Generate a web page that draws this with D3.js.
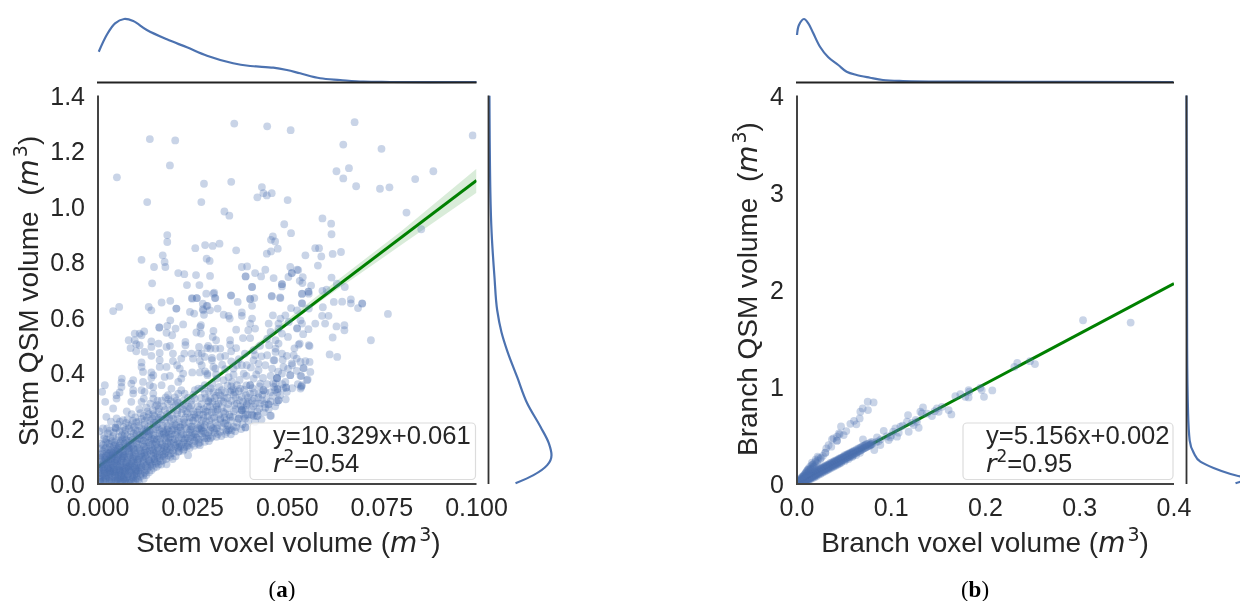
<!DOCTYPE html>
<html><head><meta charset="utf-8">
<script src="https://cdn.jsdelivr.net/npm/d3@7"></script>
<style>html,body{margin:0;padding:0;background:#fff}svg{display:block;filter:blur(.35px)}
text{font-family:"Liberation Sans",Arial,sans-serif;fill:#262626}</style></head>
<body><svg id="c" width="1240" height="601"></svg>
<script>
const stemSparse=[[.036,1.299],[.0447,1.289],[.0509,1.275],[.0137,1.243],[.0204,1.238],[.019,1.148],[.005,1.105],[.028,1.082],[.0352,1.089],[.0433,1.07],[.0437,1.048],[.0446,1.04],[.0459,1.048],[.0421,1.033],[.0501,1.023],[.013,1.016],[.0273,1.016],[.0334,.982],[.0347,.967],[.0492,.936],[.051,.904],[.0183,.897],[.0183,.872],[.0462,.892],[.0457,.88],[.0468,.874],[.0321,.866],[.0283,.861],[.0303,.858],[.0257,.85],[.0365,.842],[.0475,.848],[.0457,.838],[.0446,.83],[.0171,.824],[.0115,.808],[.0287,.812],[.0295,.804],[.0176,.8],[.0148,.782],[.0178,.782],[.038,.782],[.0394,.784],[.0508,.782],[.0526,.772],[.0442,.772],[.0212,.76],[.0228,.756],[.0259,.753],[.0296,.75],[.039,.748],[.039,.748],[.0415,.76],[.0431,.748],[.0464,.742],[.0503,.746],[.0512,.76],[.0512,.76],[.0143,.723],[.0235,.717],[.0268,.717],[.0407,.71],[.0486,.72],[.0486,.72],[.0286,.686],[.0305,.686],[.031,.67],[.0248,.67],[.0261,.67],[.0352,.679],[.0402,.668],[.0413,.67],[.0459,.676],[.0481,.672],
[.0678,1.304],[.0648,1.223],[.0749,1.208],[.099,1.256],[.063,1.127],[.0663,1.138],[.0648,1.101],[.0682,1.073],[.0745,1.064],[.077,1.069],[.0838,1.099],[.0886,1.127],[.0815,.978],[.0854,.918],[.0593,.957],[.0616,.938],[.0617,.9],[.0574,.85],[.0584,.85],[.0548,.824],[.059,.82],[.062,.829],[.0642,.836],[.0581,.787],[.0529,.771],[.0617,.744],[.0541,.745],[.0533,.732],[.054,.724],[.0563,.715],[.0631,.722],[.0652,.71],[.0593,.696],[.0604,.7],[.0556,.693],[.0556,.693],[.0539,.685],[.0539,.652],[.0623,.656],[.0645,.657],[.0668,.665],[.0668,.651],[.0698,.651],[.0687,.634],[.0594,.637],
[.0766,.613],[.0721,.518],[.0612,.467],[.0632,.458],[.062,.528],[.0651,.572],[.0651,.554],[.063,.568],[.06,.578],[.0698,.65],[.0559,.497],[.0559,.44],[.0561,.404],[.0554,.377],[.0537,.353],[.0537,.389],[.0457,.246],[.042,.245],[.0389,.204],[.0389,.236],[.0407,.251],[.0477,.302],[.045,.287],[.0497,.348],[.0508,.392],[.0533,.506],[.0592,.606],[.0609,.606],[.0574,.578],[.0526,.56],[.0556,.558],[.0519,.489],[.0543,.417],[.0512,.435],[.0466,.446],[.0473,.381],[.0473,.381],[.0463,.363],[.0437,.338],[.0402,.356],[.0384,.273],[.0393,.291]];
const stemMiddle=[[.004,.623],[.0056,.638],[.0134,.638],[.0141,.626],[.0168,.654],[.0191,.66],[.0207,.632],[.0207,.632],[.0249,.668],[.0261,.67],[.0243,.62],[.0254,.614],[.0278,.626],[.0287,.642],[.0191,.59],[.0183,.57],[.0162,.564],[.0162,.564],[.0205,.56],[.0225,.575],[.0181,.545],[.0196,.536],[.0272,.572],[.026,.546],[.0272,.542],[.0097,.542],[.011,.542],[.0122,.55],[.0115,.536],[.0081,.518],[.0097,.518],[.011,.5],[.0101,.504],[.0086,.49],[.0101,.478],[.0141,.514],[.0141,.494],[.016,.506],[.0181,.494],[.019,.498],[.0231,.512],[.0231,.5],[.0123,.476],[.0163,.472],[.0198,.47],[.0228,.47],[.0267,.494],[.0291,.498],[.0247,.47],[.0265,.47],[.0282,.458],[.0251,.452],[.022,.452],[.0141,.462],[.0115,.438],[.0163,.446],[.0198,.443],[.0209,.428],[.0269,.443],[.0216,.416],[.0181,.422],[.0115,.422],[.0119,.404],[.0141,.402],[.0163,.422],[.0249,.402],[.0269,.402],[.0289,.398],[.0225,.398],[.0141,.383],[.0146,.392],[.0063,.38],[.0062,.366],[.0093,.374],[.0088,.362],[.0018,.356],[.0119,.368],[.019,.39],[.0176,.386],[.022,.38],[.0212,.368],[.0168,.356],[.0146,.35],[.0137,.356],[.0062,.35],[.0049,.32],[.0057,.33],[.0093,.338],[.0115,.338],[.0146,.326],[.0194,.344],[.022,.338],[.0256,.338],[.0265,.344],[.0212,.326],[.0282,.356],[.0229,.326],
[.0307,.69],[.0309,.67],[.0351,.68],[.0369,.656],[.0402,.666],[.0459,.678],[.0482,.67],[.0407,.642],[.0407,.71],[.0486,.712],[.0539,.686],[.0557,.686],[.0277,.65],[.0289,.642],[.0296,.626],[.0316,.632],[.0277,.63],[.028,.61],[.0332,.61],[.0345,.606],[.0348,.596],[.038,.618],[.038,.606],[.0462,.608],[.051,.634],[.0539,.65],[.0557,.632],[.0526,.626],[.0495,.608],[.0482,.596],[.0407,.596],[.0402,.578],[.0451,.578],[.0477,.578],[.0504,.584],[.0535,.59],[.0526,.562],[.0539,.578],[.0365,.556],[.0397,.554],[.0415,.56],[.0305,.552],[.027,.566],[.0456,.548],[.0477,.56],[.0303,.53],[.0312,.518],[.0349,.518],[.0383,.526],[.0402,.526],[.0447,.524],[.0469,.518],[.0486,.542],[.0349,.502],[.0323,.488],[.0297,.488],[.031,.488],[.0288,.49],[.0365,.49],[.0411,.482],[.0469,.488],[.0486,.47],[.053,.502],[.0557,.5],[.0477,.506],[.0274,.47],[.0301,.454],[.0301,.446],[.0336,.462],[.0323,.458],[.0415,.464],[.0447,.464],[.0464,.446],[.0517,.464],[.0499,.462],[.0535,.44],[.0548,.443],[.0469,.476],[.0411,.446],[.0274,.428],[.0305,.422],[.031,.416],[.0367,.428],[.038,.428],[.0393,.428],[.0424,.434],[.0442,.428],[.049,.422],[.0513,.428],[.0543,.418],[.0283,.406],[.0336,.414],[.0358,.416],[.0424,.41],[.046,.416],[.0289,.392],[.0314,.38],[.0332,.374],[.0358,.394],[.0385,.398],[.0411,.38],[.0473,.382],[.0486,.398],[.0508,.392],[.0535,.39],[.0552,.374],[.0539,.356],[.0402,.356],[.0429,.362],[.0469,.362],[.0495,.368],[.0354,.368],[.0367,.356],[.0274,.344],[.0305,.332],[.0327,.338],[.0354,.338],[.0376,.344],[.0402,.326],[.0437,.338],[.0468,.338],[.0499,.332],[.0535,.344],
[.0537,.35],[.0497,.347],[.0474,.342],[.0474,.342],[.0424,.326],[.0442,.332],[.0477,.302],[.0451,.287],[.0433,.302],[.0415,.29],[.0397,.296],[.038,.314],[.038,.266],[.038,.266],[.0367,.29],[.0349,.332],[.0323,.32],[.0358,.342],[.0297,.308],[.0332,.296],[.0455,.246],[.0422,.246],[.0407,.248],[.039,.25],[.0372,.236],[.0349,.242],[.0336,.254],[.0314,.278],[.0292,.296],[.0288,.26],[.031,.26],[.0301,.236],[.0323,.236],[.0279,.236],[.0274,.2],[.0297,.212],[.0336,.218],[.0358,.206],[.0345,.194],[.0314,.2],[.0283,.182],[.0351,.179],[.039,.204],[.0353,.194],[.034,.188],[.0313,.17],[.0304,.2],[.0282,.152],[.0269,.14],[.0238,.104],[.0212,.116],[.0181,.071]];
const stemDense=[[.0019,.296],[.0011,.332],[.0049,.308],[.004,.272],[.0022,.242],[.0049,.236],[.0066,.23],[.0046,.203],[.0046,.203],[.0026,.182],[.0013,.2],[.0093,.326],[.0123,.332],[.0088,.296],[.0115,.296],[.0146,.308],[.0168,.3],[.0185,.32],[.0212,.292],[.0238,.31],[.0256,.308],[.0282,.326],[.0109,.27],[.0131,.262],[.0152,.281],[.0177,.266],[.0199,.275],[.0224,.27],[.0247,.285],[.0268,.268],[.0121,.245],[.0143,.236],[.0166,.248],[.0188,.238],[.0209,.252],[.0231,.24],[.0254,.25],[.0089,.252],[.0076,.262],[.0101,.222],[.0123,.214],[.0147,.222],[.0171,.21],[.0193,.226],[.0216,.205],[.0241,.222],[.0262,.215],[.0082,.2],[.0104,.192],[.0128,.19],[.0152,.198],[.0174,.182],[.0197,.194],[.022,.18],[.0244,.195],[.0258,.17],[.0063,.176],[.0087,.17],[.011,.162],[.0133,.172],[.0156,.16],[.0179,.155],[.0203,.162],[.0226,.15],[.0249,.145],[.0238,.165],[.0037,.155],[.0058,.148],[.0079,.14],[.0101,.147],[.0122,.135],[.0144,.145],[.0167,.13],[.0189,.136],[.0212,.128],[.0225,.12],[.0016,.163],[.0031,.135],[.0052,.125],[.0072,.118],[.0094,.126],[.0115,.11],[.0136,.12],[.0158,.105],[.0178,.112],[.0197,.09],[.0205,.1],[.0171,.085],[.0148,.09],[.0127,.095],[.0106,.088],[.0086,.098],[.0065,.1],[.0045,.108],[.0024,.112],[.0009,.128],[.0006,.095],[.0019,.088],[.0034,.09],[.005,.083],[.0068,.078],[.0084,.074],[.0101,.068],[.0118,.073],[.0137,.065],[.0155,.062],[.0167,.07],[.0011,.07],[.0025,.066],[.004,.068],[.0056,.06],[.0073,.056],[.0089,.052],[.0105,.049],[.0123,.045],[.0141,.05],[.0005,.05],[.0017,.048],[.0031,.047],[.0046,.041],[.0062,.038],[.0078,.034],[.0095,.029],[.0112,.027],[.0128,.032],[.0008,.031],[.0022,.029],[.0036,.025],[.0051,.02],[.0067,.017],[.0083,.015],[.0099,.012],[.0109,.007],[.0004,.018],[.0015,.013],[.0029,.01],[.0043,.006],[.0058,.004],[.0075,.003],[.0006,.007],[.0002,.04],[.0012,.058],[.0028,.078],[.0043,.098],[.0061,.09],[.0078,.087],[.0093,.082],[.0035,.056],[.005,.07],[.0065,.066],[.008,.062],[.0028,.035],[.0042,.052],[.0058,.049],[.0072,.045],[.0087,.041],[.0102,.038],[.0018,.022],[.0033,.038],[.0047,.031],[.0063,.027],[.0077,.024],[.0093,.02],[.0013,.038],[.0025,.054],[.0039,.043],[.0054,.033],[.0069,.03],[.0015,.078],[.0031,.102],[.0053,.095],[.0071,.105],[.009,.112],[.0108,.1],[.012,.083],[.0138,.078],[.0157,.08],[.0175,.098],[.0192,.11],[.0021,.15],[.0042,.138],[.0061,.132],[.0083,.128],[.0105,.13],[.0126,.152],[.0147,.16],[.0169,.145],[.0191,.17],[.0215,.145],[.0235,.135],[.0255,.155],[.0278,.19],[.0292,.175],[.027,.21],[.0285,.225],[.0132,.205],[.0157,.215],[.0182,.196],[.0206,.21],[.0229,.205],[.0251,.228],[.0098,.24],[.0138,.29],[.016,.26],[.0185,.29],[.021,.265],[.0236,.255],[.0082,.155],[.0068,.205],[.0095,.205],[.0118,.175],[.014,.185]];
const stemCore=[[.0014,.012],[.0031,.018],[.0023,.037],[.0047,.012],[.0061,.011],[.0038,.031],[.0054,.026],[.0072,.009],[.0087,.007],[.0102,.021],[.0011,.024],[.0017,.061],[.0033,.06],[.0049,.053],[.0066,.044],[.0081,.05],[.0097,.036],[.0113,.036],[.0121,.019],[.0009,.081],[.0022,.074],[.0037,.072],[.0052,.064],[.0069,.058],[.0085,.067],[.0099,.056],[.0116,.062],[.0131,.058],[.0007,.104],[.0018,.096],[.0029,.09],[.0044,.084],[.0059,.079],[.0075,.07],[.0091,.091],[.0104,.08],[.0122,.09],[.0139,.072],[.0153,.074],[.0013,.118],[.0027,.108],[.0039,.101],[.0055,.108],[.0068,.093],[.0083,.104],[.0098,.097],[.0112,.118],[.0129,.106],[.0146,.1],[.0163,.094],[.0021,.131],[.0035,.122],[.0048,.116],[.0063,.112],[.0078,.128],[.0095,.116],[.011,.13],[.0124,.122],[.0141,.132],[.0155,.118],[.0172,.118],[.0186,.103],[.0008,.145],[.0026,.148],[.0041,.128],[.0056,.138],[.0071,.146],[.0088,.139],[.0103,.156],[.0119,.144],[.0134,.15],[.015,.138],[.0164,.152],[.0182,.126],[.0198,.122],[.0016,.174],[.0033,.166],[.0048,.158],[.0064,.162],[.0077,.172],[.0094,.182],[.0112,.176],[.0127,.168],[.0142,.164],[.0159,.172],[.0176,.166],[.0192,.148],[.0208,.142],[.0004,.19],[.0024,.2],[.0041,.185],[.0057,.19],[.0073,.195],[.0089,.215],[.0108,.21],[.0125,.198],[.0138,.228],[.0155,.205],[.0172,.19],[.0187,.18],[.0204,.178],[.0221,.165],[.0236,.148],[.0034,.225],[.0052,.215],[.0078,.235],[.0116,.235],[.0134,.252],[.0149,.245],[.0168,.232],[.0184,.21],[.0201,.2],[.0219,.192],[.0234,.178],[.0251,.168],[.0266,.16],[.0128,.275],[.0145,.265],[.0161,.272],[.0183,.252],[.0199,.235],[.0214,.224],[.0229,.222],[.0246,.208],[.0261,.19],[.0276,.17],[.0293,.155],[.0121,.308],[.0157,.3],[.0179,.312],[.0193,.298],[.0218,.28],[.0233,.262],[.0249,.238],[.0264,.236],[.028,.205],[.0296,.194],[.0309,.185],[.0326,.173],[.0203,.312],[.0226,.3],[.0243,.272],[.0262,.258],[.0278,.25],[.0294,.23],[.0311,.222],[.0328,.206],[.0343,.21],[.0362,.19],[.0378,.198],[.0273,.288],[.0288,.278],[.0304,.268],[.0319,.25],[.0334,.24],[.0351,.228],[.0368,.222],[.0382,.215],[.0397,.228],[.0415,.224],[.0432,.232],[.0284,.31],[.0302,.296],[.0318,.29],[.0341,.272],[.0359,.262],[.0374,.25],[.039,.268],[.0405,.27],[.0421,.262],[.0438,.258],[.0451,.27],[.0468,.28],[.0293,.334],[.0312,.318],[.0333,.312],[.0352,.3],[.0364,.312],[.0383,.296],[.0396,.312],[.0413,.308],[.0428,.29],[.0445,.305],[.0462,.318],[.0481,.32],[.0496,.305],[.0302,.36],[.032,.35],[.0342,.355],[.0362,.33],[.0386,.34],[.0408,.345],[.0427,.352],[.0447,.36],[.0465,.35],[.0487,.36],[.0513,.345],[.0528,.36],[.0312,.395],[.0345,.385],[.0374,.375],[.0392,.39],[.0418,.395],[.0436,.382],[.0456,.39],[.0476,.405],[.0502,.415],[.0525,.408],[.0328,.43],[.0352,.442],[.0372,.45],[.0404,.42],[.0432,.46],[.0488,.448],[.0525,.452],[.0352,.478],[.0388,.47],[.0428,.498],[.0452,.5],[.0502,.53],[.0542,.54],
[.0032,.01],[.0052,.009],[.0068,.022],[.0025,.043],[.0044,.036],[.006,.032],[.0079,.029],[.0091,.025],[.0015,.055],[.0031,.052],[.0048,.047],[.0065,.051],[.0083,.044],[.0099,.046],[.0009,.063],[.0026,.084],[.0043,.077],[.0058,.07],[.0076,.063],[.0092,.06],[.0108,.06],[.0011,.098],[.0036,.095],[.0048,.09],[.0063,.084],[.0077,.079],[.0096,.075],[.0113,.068],[.0129,.07],[.0021,.102],[.0038,.113],[.0051,.103],[.0069,.1],[.0087,.085],[.0102,.09],[.0118,.098],[.0134,.087],[.015,.082],[.003,.11],[.0046,.12],[.0066,.118],[.0082,.112],[.0099,.107],[.0123,.112],[.0139,.108],[.0152,.11],[.017,.102],[.0028,.124],[.0054,.13],[.0074,.135],[.0092,.13],[.0107,.143],[.0127,.135],[.0146,.125],[.016,.125],[.0177,.135],[.0193,.132],[.0043,.15],[.0067,.15],[.0085,.148],[.0116,.158],[.0138,.158],[.0153,.15],[.0183,.145],[.02,.15],[.0217,.135],[.0229,.132],[.0069,.168],[.0098,.168],[.0122,.18],[.0147,.176],[.0169,.178],[.0186,.165],[.0211,.155],[.0242,.155],[.0265,.145],[.0136,.19],[.0162,.195],[.0188,.19],[.0207,.185],[.0231,.165],[.0252,.182],[.0272,.182],[.0288,.165],[.0159,.232],[.0177,.225],[.0196,.21],[.0224,.215],[.0247,.198],[.0268,.198],[.0301,.17],[.0317,.18],[.0337,.18]];
const stemSolid=[[.0008,.006],[.0019,.009],[.0035,.006],[.0049,.005],[.0064,.007],[.0081,.004],[.0094,.009],[.0106,.015],[.0006,.016],[.0021,.018],[.0037,.014],[.0053,.017],[.0071,.014],[.0088,.017],[.0103,.03],[.0119,.031],[.0004,.029],[.0016,.03],[.0029,.026],[.0045,.026],[.0058,.021],[.0074,.02],[.009,.033],[.0107,.044],[.0124,.04],[.0135,.042],[.0006,.041],[.0018,.04],[.0032,.045],[.0043,.046],[.0057,.043],[.0071,.037],[.0086,.047],[.0101,.05],[.0115,.052],[.0128,.05],[.0147,.058],[.0003,.056],[.0014,.05],[.0027,.057],[.004,.06],[.0055,.052],[.0068,.049],[.0081,.058],[.0096,.064],[.0111,.057],[.0126,.064],[.0143,.066],[.016,.07],[.0005,.068],[.0018,.07],[.0032,.071],[.0046,.075],[.006,.063],[.0074,.076],[.0089,.072],[.0105,.076],[.0121,.078],[.0135,.082],[.015,.09],[.0165,.082],[.018,.09],[.0008,.09],[.0021,.085],[.0035,.083],[.0051,.088],[.0064,.094],[.0079,.096],[.0094,.1],[.0109,.094],[.0125,.101],[.0142,.092],[.0157,.098],[.0174,.108],[.0191,.098],[.0011,.11],[.0024,.101],[.0039,.108],[.0053,.114],[.0067,.107],[.0081,.12],[.0097,.122],[.0113,.104],[.013,.115],[.0147,.114],[.0163,.108],[.018,.118],[.0199,.112],[.0214,.118],[.0017,.125],[.0034,.115],[.0049,.132],[.0063,.124],[.0079,.134],[.0093,.142],[.011,.122],[.0127,.128],[.0143,.12],[.0158,.132],[.0174,.128],[.0191,.124],[.021,.132],[.0227,.125],[.0242,.13],[.0013,.14],[.003,.145],[.0046,.143],[.0061,.155],[.0074,.158],[.009,.158],[.0106,.165],[.0121,.156],[.0137,.14],[.0155,.143],[.017,.14],[.0187,.152],[.0204,.138],[.0221,.142],[.0238,.14],[.0254,.138],[.0269,.15],[.0022,.16],[.004,.172],[.0055,.17],[.0071,.18],[.0087,.19],[.0102,.18],[.0119,.188],[.0135,.18],[.0149,.165],[.0165,.165],[.018,.172],[.0197,.16],[.0213,.168],[.0229,.158],[.0246,.172],[.0261,.165],[.0281,.165],[.0297,.165],[.0031,.192],[.0048,.2],[.0065,.192],[.0081,.21],[.0099,.195],[.0115,.2],[.0131,.192],[.0145,.195],[.0162,.182],[.0179,.185],[.0194,.18],[.021,.192],[.0225,.178],[.0241,.185],[.0256,.18],[.0274,.192],[.0291,.185],[.0308,.195],[.0322,.188],[.0339,.195],[.0058,.225],[.0074,.22],[.0092,.228],[.0107,.225],[.0124,.228],[.014,.212],[.0153,.222],[.0169,.2],[.0185,.2],[.0203,.215],[.0218,.205],[.0235,.198],[.0249,.208],[.0265,.202],[.0282,.212],[.0299,.205],[.0316,.212],[.0332,.22],[.0348,.2],[.0365,.205],[.0112,.255],[.0129,.24],[.0146,.252],[.0162,.238],[.0179,.24],[.0195,.25],[.0211,.235],[.0227,.232],[.0243,.24],[.0258,.24],[.0274,.228],[.029,.245],[.0307,.24],[.0323,.232],[.0339,.23],[.0356,.242],[.0371,.235],[.0386,.242],[.0156,.285],[.0172,.28],[.019,.265],[.0205,.285],[.0221,.255],[.0238,.28],[.0252,.262],[.0268,.25],[.0284,.262],[.03,.258],[.0316,.268],[.0331,.26],[.0347,.25],[.0363,.27],[.0379,.268],[.0395,.25],[.0412,.245],[.0186,.305],[.0208,.3],[.0229,.285],[.0246,.3],[.0264,.28],[.0279,.27],[.0296,.28],[.0312,.285],[.0327,.275],[.0344,.288],[.036,.285],[.0377,.28],[.0393,.285],[.041,.28],[.0426,.272],[.0442,.275],[.0252,.322],[.0272,.31],[.0291,.3],[.0308,.31],[.0325,.302],[.0342,.31],[.0358,.322],[.0373,.302],[.0391,.32],[.0407,.3],[.0424,.312],[.044,.288],[.0456,.298],[.0472,.295],[.0298,.345],[.0318,.33],[.0336,.33],[.0352,.352],[.0372,.335],[.0392,.355],[.0412,.33],[.0434,.322],[.0455,.33],[.0474,.33],[.049,.345]];
const stemFitX=[0,.1], stemFitY=[.061,1.094];
const stemBandX=[0,.02,.04,.06,.08,.1], stemBandLo=[.05,.262,.474,.67,.86,1.05], stemBandHi=[.073,.276,.486,.7,.91,1.136];
const stemTopX=[.0002,.0023,.0045,.0069,.0093,.0129,.0182,.0235,.0288,.0357,.0402,.0463,.0499,.0534,.0587,.064,.0701,.0772,.1];
const stemTopD=[.48,.746,.932,1,.968,.825,.677,.55,.417,.297,.254,.227,.19,.138,.059,.032,.005,0,0];
const stemRightY=[1.399,1.047,.903,.745,.626,.547,.48,.385,.291,.206,.147,.104,.068,.032,.0025];
const stemRightD=[.015,.03,.05,.095,.138,.206,.297,.456,.614,.825,.957,1,.932,.714,.429];

const branchPoints=[[.075,.847],[.0813,.84],[.0697,.778],[.0753,.761],[.0672,.744],[.0665,.675],[.0566,.62],[.063,.614],[.0467,.593],[.0523,.545],[.0495,.504],[.0453,.511],[.0424,.487],[.0371,.459],[.0424,.446],[.0424,.446],[.0364,.384],[.0311,.367],[.0301,.322],[.0301,.322],[.0219,.281],[.0248,.257],[.0195,.23],[.0219,.24],[.023,.27],[.0159,.195],[.0177,.178],[.0124,.161],[.0106,.127],[.0088,.11],[.0071,.088],[.0053,.072],[.0159,.22],[.0141,.18],[.0198,.25],[.0115,.145],[.0095,.12],
[.07,.459],[.092,.548],[.0849,.48],[.0884,.401],[.082,.35],[.0973,.452],[.099,.48],[.1043,.572],[.1096,.59],[.1079,.528],[.1061,.487],[.1167,.641],[.1178,.71],[.1185,.538],[.1238,.607],[.1273,.641],[.1291,.579],[.1309,.744],[.1337,.788],[.1326,.727],[.1432,.699],[.1485,.778],[.1538,.795],[.1503,.744],[.1609,.761],[.1638,.716],[.168,.905],[.1733,.925],[.1786,.898],[.1821,.967],[.1821,.891],[.1828,.95],[.3035,1.686],[.354,1.662],[.2337,1.248],[.2306,1.206],[.2472,1.265],[.2525,1.235],[.196,.967],[.2072,.963],[.1984,.898],[.1945,.99],[.1,.5],[.102,.54],[.112,.6],[.089,.46],[.095,.49],[.0865,.44],[.08,.43],[.0775,.395],[.084,.43],[.138,.725],[.146,.75],[.122,.63],[.126,.66],
[.001,.006],[.002,.011],[.003,.015],[.004,.018],[.005,.024],[.006,.028],[.007,.034],[.008,.038],[.009,.044],[.01,.05],[.011,.054],[.012,.06],[.013,.066],[.014,.07],[.015,.078],[.016,.082],[.017,.088],[.018,.092],[.019,.098],[.02,.102],[.021,.108],[.022,.114],[.023,.118],[.024,.122],[.025,.13],[.026,.134],[.027,.138],[.028,.144],[.029,.15],[.03,.154],[.031,.16],[.032,.166],[.033,.17],[.034,.174],[.035,.18],[.036,.186],[.037,.192],[.038,.196],[.039,.2],[.04,.206],[.041,.21],[.042,.216],[.043,.222],[.044,.226],[.045,.232],[.046,.236],[.047,.242],[.048,.246],[.049,.25],[.05,.258],[.051,.262],[.052,.268],[.053,.272],[.054,.278],[.055,.282],[.056,.29],[.057,.292],[.058,.3],[.059,.304],[.06,.31],[.061,.312],[.062,.32],[.063,.324],[.064,.33],[.065,.336],[.066,.34],[.067,.346],[.068,.35],[.069,.356],[.07,.362],[.071,.368],[.072,.37],[.073,.378],[.074,.382],[.075,.388],[.076,.394],[.077,.398],[.078,.404],[.079,.408],[.08,.414],
[.0015,.018],[.0025,.024],[.0035,.03],[.0045,.034],[.0055,.04],[.0065,.046],[.0075,.052],[.0085,.058],[.0095,.062],[.0105,.07],[.0115,.075],[.0125,.08],[.0135,.086],[.0145,.092],[.0155,.097],[.0165,.104],[.0175,.11],[.0185,.114],[.0195,.12],[.0205,.126],[.0215,.13],[.0225,.136],[.0235,.142],[.0245,.146],[.0255,.152],[.0265,.158],[.0275,.162],[.0285,.168],[.0295,.174],[.0305,.176],[.0315,.182],[.0325,.188],[.0335,.192],[.0345,.198],[.0355,.2],[.0365,.208],[.0375,.21],[.0385,.218],[.0395,.224],[.0405,.228],[.0415,.234],[.0425,.238],[.0435,.244],[.0445,.25],[.0455,.254],[.0465,.26],[.0475,.266],[.0485,.27],[.0495,.276],[.0505,.282],[.0515,.288],[.0525,.29],[.0535,.296],[.0545,.304],[.0555,.306],[.0565,.312],[.0575,.316],[.0585,.322],[.0595,.328],[.0605,.334],[.0625,.344],[.0645,.352],[.0665,.366],[.0685,.376],[.0705,.39],[.0725,.4],[.0745,.41],[.0765,.418],[.0785,.43],
[.0012,.002],[.0022,.004],[.0032,.006],[.0042,.01],[.0052,.014],[.0062,.018],[.0072,.022],[.0082,.028],[.0092,.034],[.0102,.038],[.0112,.044],[.0122,.05],[.0132,.054],[.0142,.06],[.0152,.066],[.0162,.072],[.0172,.076],[.0182,.082],[.0192,.086],[.0202,.092],[.0212,.098],[.0232,.108],[.0252,.118],[.0272,.128],[.0292,.14],[.0312,.148],[.0332,.158],[.0352,.17],[.0372,.18],[.0392,.19],[.0412,.2],[.0432,.21],[.0452,.22],[.0472,.23],[.0502,.244],[.0532,.26],[.0562,.276],[.0592,.29],
[.0012,.014],[.0026,.03],[.0038,.038],[.0049,.046],[.0058,.052],[.0073,.058],[.0088,.066],[.0101,.074],[.0117,.086],[.0131,.094],[.0147,.1],[.0163,.114],[.0178,.122],[.0194,.132],[.0209,.14],[.0226,.146],[.0241,.158],[.0258,.164],[.0272,.174],[.0288,.18],[.0304,.188],[.032,.196],[.0338,.204],[.0354,.216],[.037,.222],[.0386,.23],[.0402,.24],[.042,.246],[.0437,.256],[.0452,.264],[.0469,.272],[.0488,.28],[.0503,.294],[.052,.3],[.0538,.31],[.0556,.318],[.0574,.326],[.0592,.336],[.061,.344],[.0632,.356],[.0652,.366],[.0675,.378],[.0695,.388],[.0718,.398],[.0735,.41],[.0028,.002],[.0046,.004],[.0066,.01],[.0084,.018],[.0104,.028],[.0124,.038],[.0144,.05],[.0166,.06],[.0186,.07],[.0208,.08],[.0228,.096],[.0248,.104],[.0268,.116],[.0288,.126],[.0308,.136],[.0328,.146],[.0348,.158],[.0368,.168],[.0388,.178],[.0408,.188],[.0428,.198],[.0448,.208],[.0468,.218],[.0508,.238],[.0548,.258],[.0588,.28],[.0628,.298],[.0668,.322],[.0012,.026],[.0022,.034],[.0036,.048],[.005,.058],[.0066,.07],[.008,.08],[.0095,.092],[.011,.106],[.0125,.118],[.0135,.132],[.0148,.15],[.0162,.16],[.018,.175],[.0195,.195],[.021,.215],[.0005,.012],[.0018,.026],[.003,.04],[.0042,.056],[.0055,.068],[.0068,.082],[.0082,.096],[.0096,.108],[.0108,.14],[.0128,.148],[.0142,.16],[.0168,.2],[.018,.21],[.0255,.27],[.0275,.29],[.0335,.4],[.0388,.47],[.0445,.52],[.0605,.65]];
const branchFitX=[0,.4], branchFitY=[.002,2.064];
const branchTopX=[0,.0021,.0074,.012,.0173,.0244,.0332,.0438,.0527,.0633,.0775,.0912,.1125,.176,.399];
const branchTopD=[.746,.905,1,.932,.773,.56,.392,.27,.163,.111,.068,.032,.016,.005,0];
const branchRightY=[4,1.41,.73,.45,.32,.23,.165,.103,.076,.045,.024,.007];
const branchRightD=[0,.01,.025,.05,.115,.22,.43,.7,.857,1,.857,.778];

const panels=[
 {pts:[...stemSparse,...stemMiddle,...stemDense,...stemCore,...stemSolid],xMax:.1,yMax:1.4,left:98,right:476.5,
  xTicks:[0,.025,.05,.075,.1],xFmt:d3.format(".3f"),yTicks:[0,.2,.4,.6,.8,1,1.2,1.4],yFmt:d3.format(".1f"),
  fitX:stemFitX,fitY:stemFitY,bandX:stemBandX,bandLo:stemBandLo,bandHi:stemBandHi,
  topX:stemTopX,topD:stemTopD,rightY:stemRightY,rightD:stemRightD,rightBase:488.5,
  xName:"Stem voxel volume",yName:"Stem QSM volume",xLabelC:288.5,yLabelX:38,yLabelC:291,
  legendX:250,legendW:225.5,eq:"y=10.329x+0.061",r2:"=0.54",textX:273,tag:"a",tagX:282},
 {pts:branchPoints,xMax:.4,yMax:4,left:797,right:1174,
  xTicks:[0,.1,.2,.3,.4],xFmt:d3.format(".1f"),yTicks:[0,1,2,3,4],yFmt:d3.format("d"),
  fitX:branchFitX,fitY:branchFitY,
  topX:branchTopX,topD:branchTopD,rightY:branchRightY,rightD:branchRightD,rightBase:1186.5,
  xName:"Branch voxel volume",yName:"Branch QSM volume",xLabelC:985,yLabelX:757,yLabelC:289,
  legendX:963,legendW:210,eq:"y=5.156x+0.002",r2:"=0.95",textX:986,tag:"b",tagX:975}
];
const svg=d3.select("#c"), plotTop=95.5, plotBottom=484, FS=25, LS=28, LEG=25.6;
const blue="#4c72b0", spine="#444";

function mathLabel(sel,name){
  sel.append("tspan").text(name);
  sel.append("tspan").style("font-family","'DejaVu Sans'").attr("font-style","italic").text("m");
  sel.append("tspan").style("font-family","'DejaVu Sans'").attr("font-size",19).attr("dy",-11).attr("dx",2).text("3");
  sel.append("tspan").attr("dy",11).text(")");
}
panels.forEach((p,i)=>{
  const x=d3.scaleLinear().domain([0,p.xMax]).range([p.left,p.right]);
  const y=d3.scaleLinear().domain([0,p.yMax]).range([plotBottom,plotTop]);
  const g=svg.append("g");
  g.append("clipPath").attr("id","clip"+i).append("rect")
    .attr("x",p.left).attr("y",plotTop).attr("width",p.right-p.left).attr("height",plotBottom-plotTop);
  const plot=g.append("g").attr("clip-path",`url(#clip${i})`);
  if(p.bandX){
    plot.append("path").datum(p.bandX.map((v,j)=>[v,p.bandLo[j],p.bandHi[j]]))
      .attr("d",d3.area().x(d=>x(d[0])).y0(d=>y(d[1])).y1(d=>y(d[2])))
      .attr("fill","#008000").attr("opacity",.15);
  }
  plot.append("path").datum(p.fitX.map((v,j)=>[v,p.fitY[j]]))
    .attr("d",d3.line().x(d=>x(d[0])).y(d=>y(d[1])))
    .attr("fill","none").attr("stroke","#008000").attr("stroke-width",3);
  plot.selectAll("circle").data(p.pts).join("circle")
    .attr("cx",d=>x(d[0])).attr("cy",d=>y(d[1])).attr("r",3.9)
    .attr("fill",blue).attr("fill-opacity",.3);

  g.append("line").attr("x1",p.left).attr("x2",p.left).attr("y1",plotTop).attr("y2",plotBottom+1)
    .attr("stroke",spine).attr("stroke-width",2);
  g.append("line").attr("x1",p.left-1).attr("x2",p.right).attr("y1",plotBottom).attr("y2",plotBottom)
    .attr("stroke",spine).attr("stroke-width",2);

  g.append("rect").attr("x",p.legendX).attr("y",423).attr("width",p.legendW).attr("height",56.5)
    .attr("rx",4).attr("fill","#fff").attr("fill-opacity",.8).attr("stroke","#dcdcdc").attr("stroke-width",1.2);
  g.append("text").attr("x",p.textX).attr("y",444).attr("font-size",LEG).text(p.eq);
  const r=g.append("text").attr("x",p.textX).attr("y",472).attr("font-size",LEG);
  r.append("tspan").style("font-family","'DejaVu Sans'").attr("font-style","italic").text("r");
  r.append("tspan").style("font-family","'DejaVu Sans'").attr("font-size",17).attr("dy",-10).text("2");
  r.append("tspan").attr("dy",10).text(p.r2);

  g.selectAll(".xt").data(p.xTicks).join("text").attr("class","xt").attr("x",d=>x(d)).attr("y",516)
    .attr("text-anchor","middle").attr("font-size",FS).text(p.xFmt);
  g.selectAll(".yt").data(p.yTicks).join("text").attr("class","yt").attr("x",p.left-13).attr("y",d=>y(d)+9)
    .attr("text-anchor","end").attr("font-size",FS).text(p.yFmt);

  g.append("text").attr("x",p.xLabelC).attr("y",552).attr("text-anchor","middle").attr("font-size",LS)
    .call(mathLabel,p.xName+" (");
  g.append("text").attr("transform",`translate(${p.yLabelX},${p.yLabelC}) rotate(-90)`)
    .attr("text-anchor","middle").attr("font-size",LS)
    .style("white-space","pre").call(mathLabel,p.yName+"  (");

  const t=g.append("text").attr("x",p.tagX).attr("y",597).attr("text-anchor","middle")
    .attr("font-size",23).style("font-family","'Liberation Serif',serif").style("fill","#000");
  t.append("tspan").text("(");
  t.append("tspan").attr("font-weight","bold").text(p.tag);
  t.append("tspan").text(")");

  const dT=d3.scaleLinear().domain([0,1]).range([82,19]);
  g.append("path").datum(p.topX.map((v,j)=>[v,p.topD[j]]))
    .attr("d",d3.line().x(d=>x(d[0])).y(d=>dT(d[1])).curve(d3.curveCatmullRom))
    .attr("fill","none").attr("stroke",blue).attr("stroke-width",2.2);
  g.append("line").attr("x1",p.left-1).attr("x2",p.right).attr("y1",82.5).attr("y2",82.5)
    .attr("stroke","#222").attr("stroke-width",1.8);

  const dR=d3.scaleLinear().domain([0,1]).range([p.rightBase,p.rightBase+63]);
  g.append("path").datum(p.rightY.map((v,j)=>[v,p.rightD[j]]))
    .attr("d",d3.line().x(d=>dR(d[1])).y(d=>y(d[0])).curve(d3.curveMonotoneY))
    .attr("fill","none").attr("stroke",blue).attr("stroke-width",2.2);
  g.append("line").attr("x1",p.rightBase).attr("x2",p.rightBase).attr("y1",plotTop).attr("y2",plotBottom)
    .attr("stroke","#333").attr("stroke-width",1.8);
});
</script></body></html>
